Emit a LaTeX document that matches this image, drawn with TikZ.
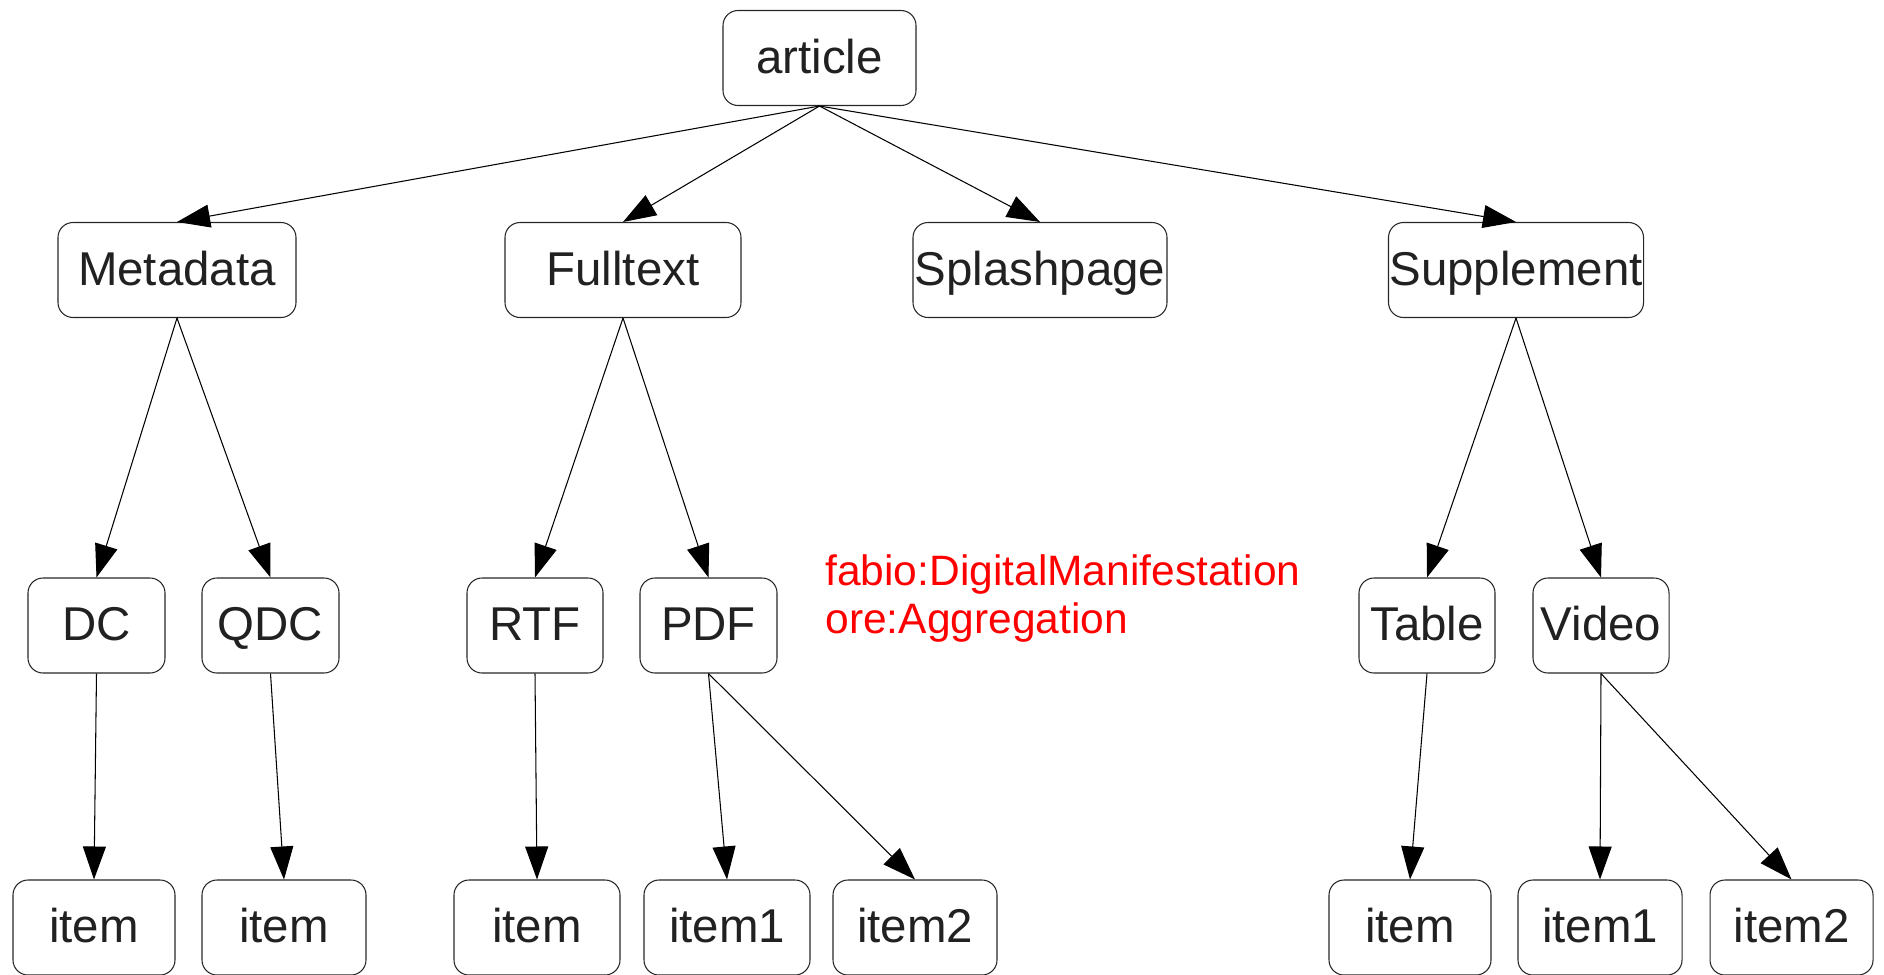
\documentclass[tikz,border=0pt]{standalone}
\usepackage{fontspec}
\setmainfont{Liberation Sans}
\usepackage{tikz}
\usetikzlibrary{arrows.meta}

\begin{document}
\begin{tikzpicture}[
    box/.style={draw=black!85, line width=0.6pt, rounded corners=0.3cm, minimum height=1.9cm, inner sep=0pt, text height=0.68cm, text depth=0.08cm, text=black!87, font=\fontsize{27}{32}\selectfont},
    link/.style={-{Triangle[length=0.66cm,width=0.46cm]}, line width=0.6pt}
]

    \useasboundingbox (0,0) rectangle (37.68,-19.48);

    \node (article) at (16.39,-1.16) [box, minimum width=3.86cm] {article};

    \node (metadata) at (3.54,-5.40) [box, minimum width=4.76cm] {Metadata};
    \node (fulltext) at (12.46,-5.40) [box, minimum width=4.72cm] {Fulltext};
    \node (splash) at (20.80,-5.40) [box, minimum width=5.08cm] {Splashpage};
    \node (supplement) at (30.32,-5.40) [box, minimum width=5.10cm] {Supplement};

    \node (dc) at (1.93,-12.51) [box, minimum width=2.74cm] {DC};
    \node (qdc) at (5.41,-12.51) [box, minimum width=2.74cm] {QDC};
    \node (rtf) at (10.70,-12.51) [box, minimum width=2.72cm] {RTF};
    \node (pdf) at (14.17,-12.51) [box, minimum width=2.74cm] {PDF};
    \node (table) at (28.54,-12.51) [box, minimum width=2.72cm] {Table};
    \node (video) at (32.02,-12.51) [box, minimum width=2.72cm] {Video};

    \node (dcitem) at (1.88,-18.55) [box, minimum width=3.24cm] {item};
    \node (qdcitem) at (5.68,-18.55) [box, minimum width=3.28cm] {item};
    \node (rtfitem) at (10.74,-18.55) [box, minimum width=3.32cm] {item};
    \node (pdfitemA) at (14.54,-18.55) [box, minimum width=3.32cm] {item1};
    \node (pdfitemB) at (18.30,-18.55) [box, minimum width=3.28cm] {item2};
    \node (tableitem) at (28.20,-18.55) [box, minimum width=3.24cm] {item};
    \node (videoitemA) at (32.00,-18.55) [box, minimum width=3.28cm] {item1};
    \node (videoitemB) at (35.83,-18.55) [box, minimum width=3.26cm] {item2};

    \node (classes) at (16.5,-12.66) [anchor=base west, inner sep=0pt, align=left, text=red, font=\fontsize{24.2}{26.8}\selectfont] {fabio:DigitalManifestation\\ore:Aggregation};

    \draw [link] (article.south) -- (metadata.north);
    \draw [link] (article.south) -- (fulltext.north);
    \draw [link] (article.south) -- (splash.north);
    \draw [link] (article.south) -- (supplement.north);

    \draw [link] (metadata.south) -- (dc.north);
    \draw [link] (metadata.south) -- (qdc.north);
    \draw [link] (fulltext.south) -- (rtf.north);
    \draw [link] (fulltext.south) -- (pdf.north);
    \draw [link] (supplement.south) -- (table.north);
    \draw [link] (supplement.south) -- (video.north);

    \draw [link] (dc.south) -- (dcitem.north);
    \draw [link] (qdc.south) -- (qdcitem.north);
    \draw [link] (rtf.south) -- (rtfitem.north);
    \draw [link] (pdf.south) -- (pdfitemA.north);
    \draw [link] (pdf.south) -- (pdfitemB.north);
    \draw [link] (table.south) -- (tableitem.north);
    \draw [link] (video.south) -- (videoitemA.north);
    \draw [link] (video.south) -- (videoitemB.north);

\end{tikzpicture}
\end{document}
